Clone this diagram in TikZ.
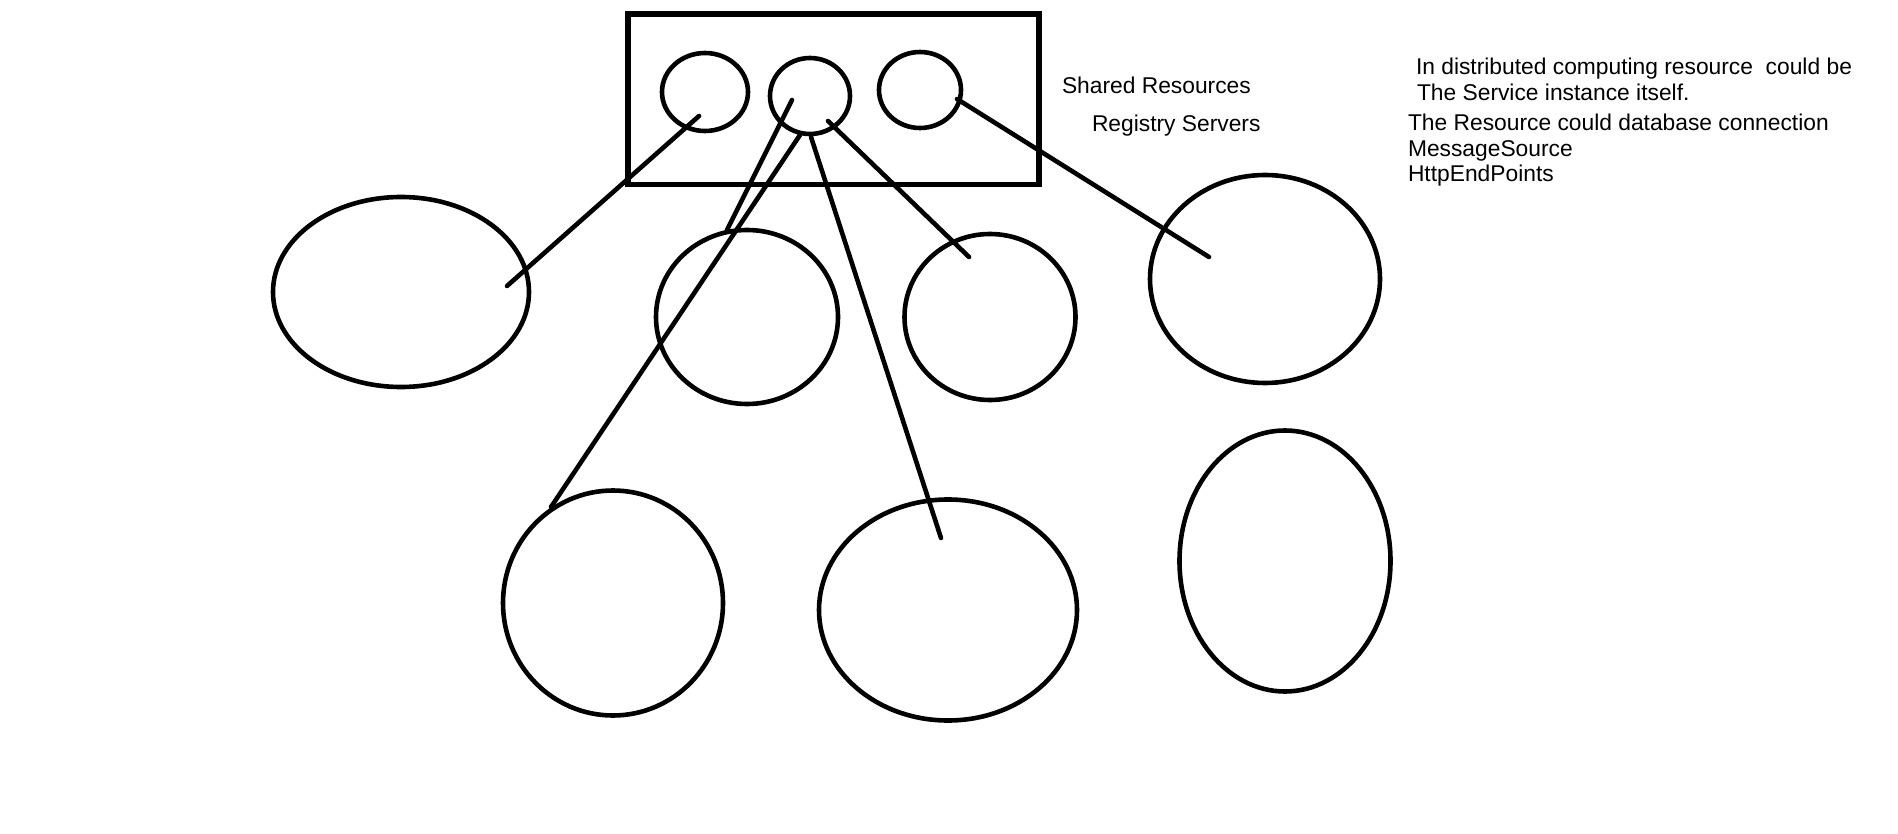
\documentclass[tikz,border=0pt]{standalone}
\usepackage{fontspec}
\setmainfont{Liberation Sans}
\usetikzlibrary{shapes.geometric}
\begin{document}
\begin{tikzpicture}[x=1pt,y=-1pt,
  stroke/.style={line width=4.6pt, black},
  oval/.style={stroke, draw, ellipse, inner sep=0pt, outer sep=0pt},
  conn/.style={stroke, line cap=round},
  lbl/.style={anchor=base west, inner sep=0pt, outer sep=0pt, font=\fontsize{22.8}{26}\selectfont}]
\useasboundingbox (0,0) rectangle (1898,834);
% shared resources box
\node[draw, line width=5.5pt, rectangle, minimum width=411pt, minimum height=170.5pt, inner sep=0pt] (box) at (833.5,99.25) {};
% small circles
\node[oval, minimum width=86pt, minimum height=78pt] (c1) at (705,92) {};
\node[oval, minimum width=80pt, minimum height=76pt] (c2) at (810,96) {};
\node[oval, minimum width=82pt, minimum height=76pt] (c3) at (920,90) {};
% big shapes
\node[oval, minimum width=256pt, minimum height=190pt] (L) at (401,292) {};
\node[oval, minimum width=182pt, minimum height=174pt] (M1) at (747,317) {};
\node[oval, minimum width=171pt, minimum height=166pt] (M2) at (990,317) {};
\node[oval, minimum width=230pt, minimum height=208pt] (R) at (1265,279) {};
\node[oval, minimum width=220pt, minimum height=225pt] (B1) at (613,603) {};
\node[oval, minimum width=258pt, minimum height=221pt] (B2) at (948,610) {};
\node[oval, minimum width=211pt, minimum height=261pt] (B3) at (1285,561) {};
% connectors
\draw[conn] ([shift={(-6,24)}]c1.center) -- ([shift={(106,-6)}]L.center);
\draw[conn] ([shift={(-18,4)}]c2.center) -- ([shift={(-20,-87)}]M1.center);
\draw[conn] ([shift={(-10,39)}]c2.center) -- ([shift={(-62,-96)}]B1.center);
\draw[conn] ([shift={(1,41)}]c2.center) -- ([shift={(-7,-72)}]B2.center);
\draw[conn] ([shift={(18,25)}]c2.center) -- ([shift={(-21,-60)}]M2.center);
\draw[conn] ([shift={(37,9)}]c3.center) -- ([shift={(-56,-22)}]R.center);
% labels
\node[lbl] (t1) at (1062,94) {Shared Resources};
\node[lbl] (t2) at (1092,132) {Registry Servers};
\node[lbl] (t3) at (1416,75) {In distributed computing resource\ \ could be};
\node[lbl] (t4) at (1417,101) {The Service instance itself.};
\node[lbl] (t5) at (1408,131) {The Resource could database connection};
\node[lbl] (t6) at (1408,157) {MessageSource};
\node[lbl] (t7) at (1408,182) {HttpEndPoints};
\end{tikzpicture}
\end{document}
